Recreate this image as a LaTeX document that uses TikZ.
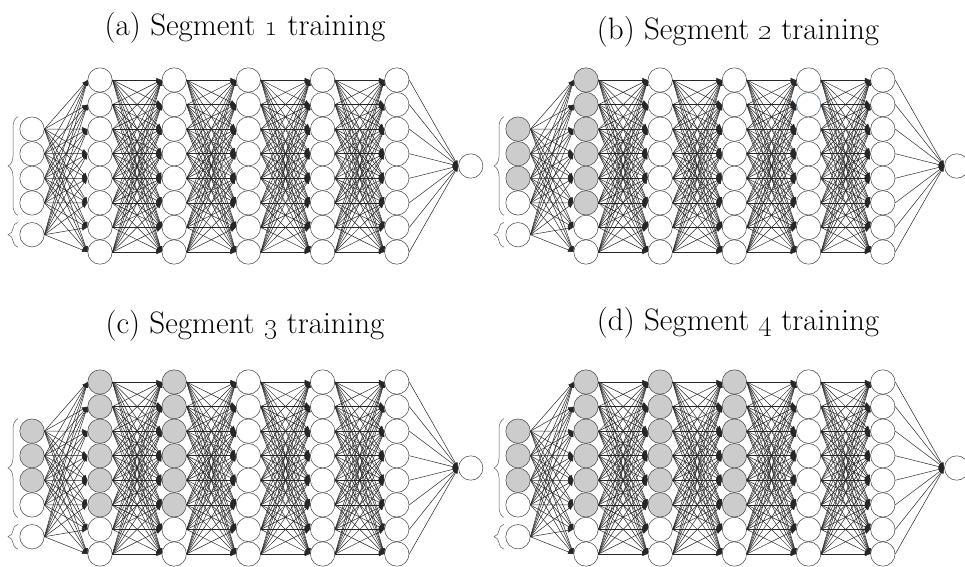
\documentclass[tikz,border=0pt]{standalone}
\usetikzlibrary{arrows.meta,decorations.pathreplacing}
\begin{document}
\tikzset{
  neuron/.style={circle, draw=black!75, line width=0.5pt, fill=white,
                 minimum size=24.4pt, inner sep=0pt},
  active/.style={neuron, fill=black!20},
  link/.style={draw=black!85, line width=0.5pt, -{Latex[length=5.5pt,width=4.5pt]}},
  grouping/.style={draw=black!65, line width=0.5pt, decorate,
                   decoration={brace, amplitude=10pt}},
  caption/.style={anchor=base, inner sep=0pt, font=\fontsize{31}{34}\selectfont},
  selected/.style={neuron, fill=none, draw=cyan!60!blue!45, densely dashed}
}
\begin{tikzpicture}[x=1pt,y=-1pt]
\useasboundingbox (0,0) rectangle (965,566);

% captions
\node[caption] (a-title) at (245,35)  {(a) Segment \oldstylenums{1} training};
\node[caption] (b-title) at (738,39)  {(b) Segment \oldstylenums{2} training};
\node[caption] (c-title) at (245,333) {(c) Segment \oldstylenums{3} training};
\node[caption] (d-title) at (738,330) {(d) Segment \oldstylenums{4} training};

% four copies of the network; in copy \s the inputs 1-3 and the first six
% units of hidden layers 1..(\s-1) are shaded
\foreach \s/\ox/\oy/\lab in {1/0/0/a, 2/486/0/b, 3/0/302/c, 4/486/302/d} {
  \begin{scope}[shift={(\ox,\oy)}]
    % input units
    \foreach \i/\y in {1/129.1, 2/153.7, 3/178.3, 4/202.9, 5/234.7} {
      \pgfmathtruncatemacro\shade{(\s>1)&&(\i<4)}
      \ifnum\shade=1
        \node[active] (\lab-i\i) at (32,\y) {};
      \else
        \node[neuron] (\lab-i\i) at (32,\y) {};
      \fi
    }
    % hidden units
    \foreach \l in {1,...,5} {
      \foreach \k in {1,...,8} {
        \pgfmathtruncatemacro\shade{(\l<\s)&&(\k<7)}
        \pgfmathsetmacro\hx{100+74.2*(\l-1)}
        \pgfmathsetmacro\hy{80+24.57*(\k-1)}
        \ifnum\shade=1
          \node[active] (\lab-h\l-\k) at (\hx,\hy) {};
        \else
          \node[neuron] (\lab-h\l-\k) at (\hx,\hy) {};
        \fi
      }
    }
    % output unit
    \node[neuron] (\lab-o) at (470.7,166) {};

    % input to first hidden layer
    \foreach \i in {1,...,5}
      \foreach \k in {1,...,8}
        \draw[link] (\lab-i\i.east) -- (\lab-h1-\k.west);
    % hidden to hidden
    \foreach \l [evaluate=\l as \m using int(\l+1)] in {1,...,4}
      \foreach \j in {1,...,8}
        \foreach \k in {1,...,8}
          \draw[link] (\lab-h\l-\j.east) -- (\lab-h\m-\k.west);
    % last hidden layer to output
    \foreach \j in {1,...,8}
      \draw[link] (\lab-h5-\j.east) -- (\lab-o.west);

    % input groups
    \draw[grouping] ([xshift=-14pt]\lab-i4.south) -- ([xshift=-14pt]\lab-i1.north);
    \draw[grouping] ([xshift=-14pt]\lab-i5.south) -- ([xshift=-14pt]\lab-i5.north);
  \end{scope}
}

% highlighted unit outline
\node[selected] (b-mark) at (b-h4-2) {};
\end{tikzpicture}
\end{document}
